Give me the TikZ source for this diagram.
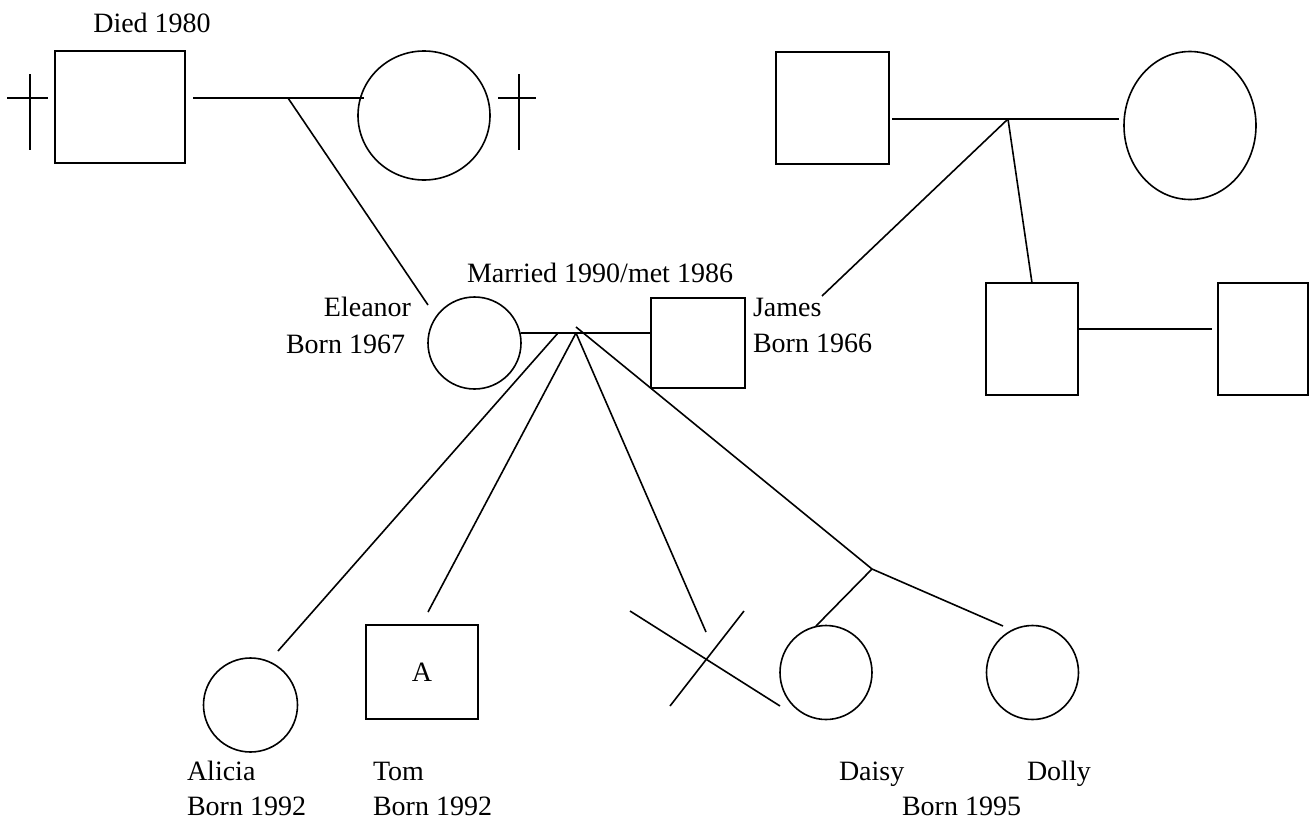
\documentclass[tikz,border=0pt]{standalone}
\usepackage{fontspec}
\setmainfont{Liberation Serif}
\usetikzlibrary{shapes.geometric}
\begin{document}
\begin{tikzpicture}[x=1pt,y=-1pt,
  every node/.style={inner sep=0pt, outer sep=0pt},
  ln/.style={line width=1.6pt},
  male/.style={draw, line width=1.6pt, rectangle, anchor=north west},
  female/.style={draw, line width=1.6pt, ellipse},
  lbl/.style={font=\fontsize{28}{34}\selectfont}]
\useasboundingbox (0,0) rectangle (1310,822);

% ---------- people ----------
\node[male, minimum width=130pt, minimum height=112pt] (gf1) at (55,51) {};
\node[female, minimum width=132pt, minimum height=129pt] (gm1) at (424,115.5) {};
\node[male, minimum width=113pt, minimum height=112pt] (gf2) at (776,52) {};
\node[female, minimum width=132pt, minimum height=148pt] (gm2) at (1190,125.5) {};
\node[male, minimum width=92pt, minimum height=112pt] (unc) at (986,283) {};
\node[male, minimum width=90pt, minimum height=112pt] (uncp) at (1218,283) {};
\node[female, minimum width=93pt, minimum height=92pt] (ele) at (474.5,343) {};
\node[male, minimum width=94pt, minimum height=90pt] (jam) at (651,298) {};
\node[female, minimum width=94pt, minimum height=94pt] (ali) at (250.5,705) {};
\node[male, minimum width=112pt, minimum height=94pt, lbl] (tom) at (366,625) {A};
\node[female, minimum width=92pt, minimum height=94pt] (dai) at (826,672.5) {};
\node[female, minimum width=92pt, minimum height=94pt] (dol) at (1032.5,672.5) {};

% ---------- labels ----------
\node[lbl, anchor=base] (died) at (152,32) {Died 1980};
\node[lbl, anchor=base] (mar) at (600,282) {Married 1990/met 1986};
\node[lbl, anchor=base east] (eln) at (411,316) {Eleanor};
\node[lbl, anchor=base east] (elb) at (405,353) {Born 1967};
\node[lbl, anchor=base west] (jn) at (753,316) {James};
\node[lbl, anchor=base west] (jb) at (753,352) {Born 1966};
\node[lbl, anchor=base west] (aln) at (187,780) {Alicia};
\node[lbl, anchor=base west] (alb) at (187,815) {Born 1992};
\node[lbl, anchor=base west] (tmn) at (373,780) {Tom};
\node[lbl, anchor=base west] (tmb) at (373,815) {Born 1992};
\node[lbl, anchor=base west] (dan) at (839,780) {Daisy};
\node[lbl, anchor=base west] (don) at (1027,780) {Dolly};
\node[lbl, anchor=base west] (ddb) at (902,815) {Born 1995};

% ---------- coordinates ----------
\coordinate (crL1) at (7,98);   \coordinate (crL2) at (48,98);
\coordinate (crL3) at (30,74);  \coordinate (crL4) at (30,150);
\coordinate (crR1) at (498,98); \coordinate (crR2) at (536,98);
\coordinate (crR3) at (519,74); \coordinate (crR4) at (519,150);
\coordinate (m1a) at (193,98);  \coordinate (m1b) at (364,98);
\coordinate (j1) at (288,98);   \coordinate (j1e) at (428,305);
\coordinate (m2a) at (892,119); \coordinate (m2b) at (1119,119);
\coordinate (j2) at (1008,119); \coordinate (j2e) at (822,296);
\coordinate (j2c) at (1032,283);
\coordinate (m3a) at (1078,329); \coordinate (m3b) at (1212,329);
\coordinate (m4a) at (521,333); \coordinate (m4b) at (651,333);
\coordinate (ca) at (558,333);  \coordinate (cae) at (278,651);
\coordinate (cb) at (576,333);  \coordinate (cbe) at (428,612);
\coordinate (cme) at (706,632);
\coordinate (ctw) at (576,327); \coordinate (tw) at (872,569);
\coordinate (twd) at (816,626); \coordinate (two) at (1003,626);
\coordinate (x1a) at (630,611); \coordinate (x1b) at (780,706);
\coordinate (x2a) at (744,611); \coordinate (x2b) at (670,706);

% ---------- connectors ----------
\draw[ln] (crL1) -- (crL2);
\draw[ln] (crL3) -- (crL4);
\draw[ln] (crR1) -- (crR2);
\draw[ln] (crR3) -- (crR4);
\draw[ln] (m1a) -- (m1b);
\draw[ln] (j1) -- (j1e);
\draw[ln] (m2a) -- (m2b);
\draw[ln] (j2) -- (j2e);
\draw[ln] (j2) -- (j2c);
\draw[ln] (m3a) -- (m3b);
\draw[ln] (m4a) -- (m4b);
\draw[ln] (ca) -- (cae);
\draw[ln] (cb) -- (cbe);
\draw[ln] (cb) -- (cme);
\draw[ln] (ctw) -- (tw);
\draw[ln] (tw) -- (twd);
\draw[ln] (tw) -- (two);
\draw[ln] (x1a) -- (x1b);
\draw[ln] (x2a) -- (x2b);
\end{tikzpicture}
\end{document}
